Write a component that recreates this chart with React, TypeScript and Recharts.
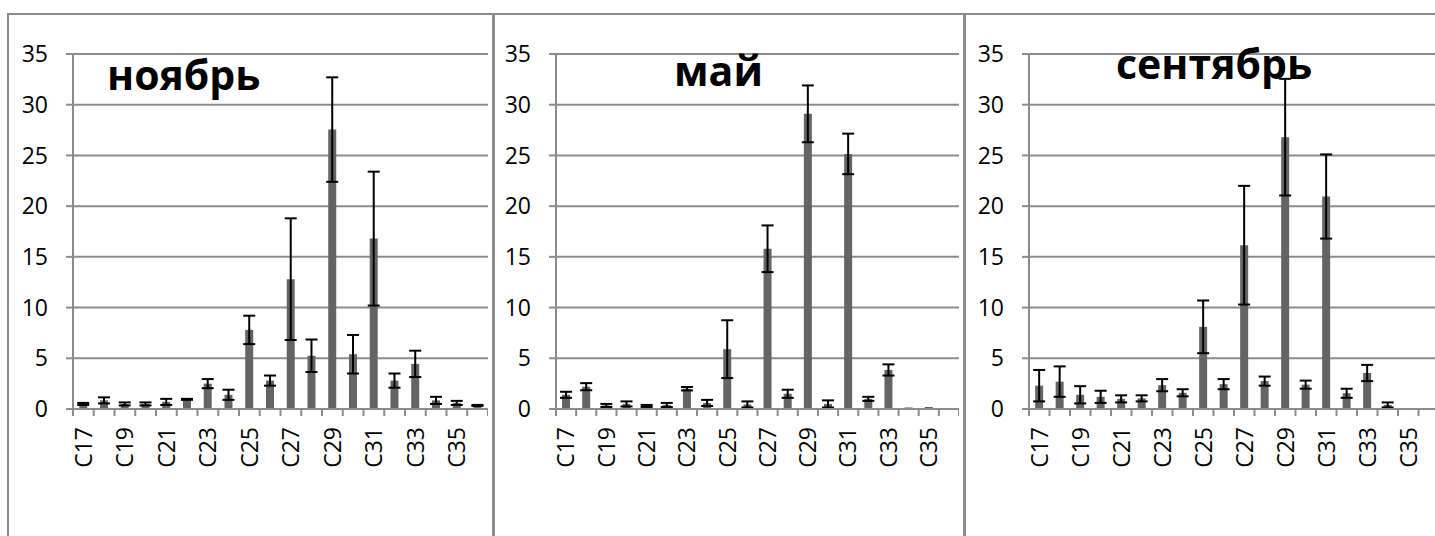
import React from "react";
import { BarChart, Bar, XAxis, YAxis, CartesianGrid, ErrorBar } from "recharts";

const categories = ["C17","C18","C19","C20","C21","C22","C23","C24","C25","C26","C27","C28","C29","C30","C31","C32","C33","C34","C35","C36"];
const yTicks = [0, 5, 10, 15, 20, 25, 30, 35];

const novValues = [0.5, 0.85, 0.5, 0.5, 0.7, 0.95, 2.5, 1.4, 7.8, 2.8, 12.8, 5.25, 27.55, 5.4, 16.8, 2.8, 4.45, 0.85, 0.6, 0.35];
const novErrors = [0.1, 0.3, 0.15, 0.15, 0.3, 0.05, 0.45, 0.5, 1.4, 0.5, 6.0, 1.6, 5.15, 1.9, 6.6, 0.7, 1.3, 0.35, 0.2, 0.05];

const mayValues = [1.4, 2.2, 0.35, 0.5, 0.3, 0.4, 2.0, 0.6, 5.9, 0.45, 15.8, 1.5, 29.1, 0.5, 25.15, 1.0, 3.85, 0.15, 0.2, 0.1];
const mayErrors = [0.3, 0.35, 0.15, 0.25, 0.1, 0.2, 0.17, 0.3, 2.85, 0.3, 2.3, 0.4, 2.8, 0.35, 2.0, 0.2, 0.55, 0.0, 0.0, 0.0];

const sepValues = [2.3, 2.7, 1.4, 1.2, 1.0, 1.05, 2.35, 1.6, 8.1, 2.45, 16.15, 2.75, 26.8, 2.4, 20.95, 1.55, 3.55, 0.4, 0.03, 0.03];
const sepErrors = [1.55, 1.5, 0.85, 0.6, 0.35, 0.3, 0.6, 0.35, 2.6, 0.5, 5.85, 0.45, 5.75, 0.4, 4.15, 0.45, 0.8, 0.25, 0.0, 0.0];

const titles = ["ноябрь", "май", "сентябрь"];

const build = (vals: number[], errs: number[]) =>
  categories.map((c, i) => ({ name: c, value: vals[i], err: errs[i] }));

const GRID = "#8c8c8c";
const BAR = "#646464";
const FONT = "'Open Sans', sans-serif";
const LABEL_GAP = 18;
const MARK_LEN = 7;

const XTick = (props: any) => {
  const { x, y, payload, index } = props;
  const off = payload && payload.offset ? payload.offset : 0;
  const y0 = y - LABEL_GAP;
  const y1 = y0 + MARK_LEN;
  const last = index === categories.length - 1;
  return (
    <g>
      <line x1={x - off} x2={x - off} y1={y0} y2={y1} stroke={GRID} strokeWidth={2} />
      {last && <line x1={x + off} x2={x + off} y1={y0} y2={y1} stroke={GRID} strokeWidth={2} />}
      {index % 2 === 0 && (
        <text
          x={x}
          y={y}
          dy="0.36em"
          textAnchor="end"
          transform={`rotate(-90, ${x}, ${y})`}
          fontFamily={FONT}
          fontSize={23}
          fill="#000"
        >
          {payload.value}
        </text>
      )}
    </g>
  );
};

type PanelProps = {
  data: any[];
  left: number;
  width: number;
  yWidth: number;
};

const Panel = ({ data, left, width, yWidth }: PanelProps) => (
  <div style={{ position: "absolute", left, top: 0 }}>
    <BarChart
      width={width}
      height={480}
      data={data}
      margin={{ top: 54, right: 0, bottom: 9, left: 0 }}
      barCategoryGap="30%"
    >
      <CartesianGrid vertical={false} stroke={GRID} strokeWidth={2} />
      <XAxis
        dataKey="name"
        interval={0}
        height={62}
        tickLine={false}
        tickSize={0}
        tickMargin={LABEL_GAP}
        axisLine={{ stroke: GRID, strokeWidth: 2 }}
        tick={<XTick />}
      />
      <YAxis
        width={yWidth}
        domain={[0, 35]}
        ticks={yTicks}
        interval={0}
        tickSize={7}
        tickMargin={18}
        tickLine={{ stroke: GRID, strokeWidth: 2 }}
        axisLine={{ stroke: GRID, strokeWidth: 2 }}
        tick={{ fill: "#000", fontSize: 23, fontFamily: FONT }}
      />
      <Bar dataKey="value" fill={BAR} isAnimationActive={false}>
        <ErrorBar dataKey="err" width={6} stroke="#000" strokeWidth={2} direction="y" />
      </Bar>
    </BarChart>
  </div>
);

export default function App() {
  const novData = build(novValues, novErrors);
  const mayData = build(mayValues, mayErrors);
  const sepData = build(sepValues, sepErrors);
  const border = `2px solid ${GRID}`;
  return (
    <div
      style={{
        position: "absolute",
        left: 0,
        top: 0,
        width: 1435,
        height: 536,
        overflow: "hidden",
        background: "#fff",
      }}
    >
      <div style={{ position: "absolute", left: 7, top: 13, width: 484, height: 600, border }} />
      <div style={{ position: "absolute", left: 492, top: 13, width: 470, height: 600, border }} />
      <div style={{ position: "absolute", left: 963, top: 13, width: 600, height: 600, border }} />
      <Panel data={novData} left={0} width={488} yWidth={73} />
      <Panel data={mayData} left={493} width={466} yWidth={63} />
      <Panel data={sepData} left={964} width={475} yWidth={65} />
      <svg
        width={1435}
        height={536}
        style={{ position: "absolute", left: 0, top: 0, pointerEvents: "none" }}
      >
        <text x={107} y={90} fontFamily={FONT} fontWeight={700} fontSize={41} fill="#000">
          {titles[0]}
        </text>
        <text x={674} y={86} fontFamily={FONT} fontWeight={700} fontSize={41} fill="#000">
          {titles[1]}
        </text>
        <text x={1116} y={79} fontFamily={FONT} fontWeight={700} fontSize={41} fill="#000">
          {titles[2]}
        </text>
      </svg>
    </div>
  );
}
